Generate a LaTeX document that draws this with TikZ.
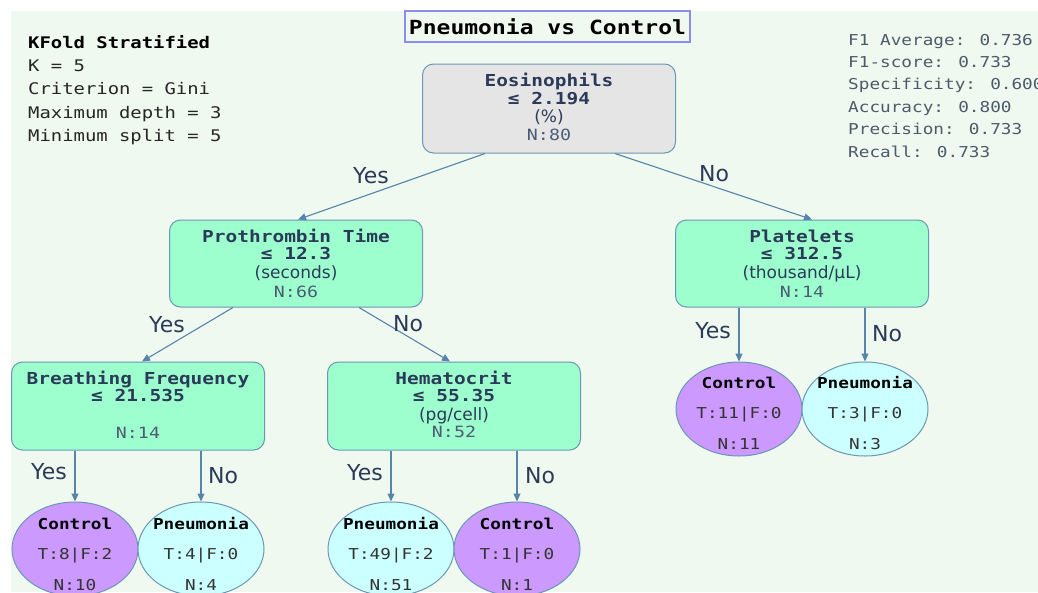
\documentclass[tikz,border=0pt]{standalone}
\usepackage{fontspec}
\setmainfont{DejaVu Sans}
\newfontfamily\monof[FakeStretch=1.18]{DejaVu Sans Mono}
\usetikzlibrary{arrows.meta,shapes.geometric}
\definecolor{bgc}{HTML}{F0F9EF}
\definecolor{mint}{HTML}{9DFFCE}
\definecolor{rootc}{HTML}{E5E5E5}
\definecolor{bord}{HTML}{6A97B5}
\definecolor{edgec}{HTML}{5585AA}
\definecolor{ctrlc}{HTML}{CC99FF}
\definecolor{pneuc}{HTML}{CCFFFF}
\definecolor{titleb}{HTML}{8C8CF0}
\definecolor{navy}{HTML}{2B3A58}
\definecolor{nlc}{HTML}{4B5B74}
\definecolor{metc}{HTML}{4C5A6A}
\tikzset{
  box/.style={draw=bord, line width=1pt, rounded corners=11pt, minimum width=253pt, minimum height=88pt, inner sep=0pt},
  leaf/.style={ellipse, draw=bord, line width=1pt, minimum width=126pt, minimum height=94pt, inner sep=0pt},
  hdr/.style={text=navy, font={\monof\bfseries\fontsize{16.5}{18}\selectfont}, anchor=base, inner sep=0pt},
  nline/.style={text=nlc, font={\monof\fontsize{15.5}{18}\selectfont}, anchor=base, inner sep=0pt},
  unit/.style={text=navy, font={\fontsize{17}{19}\selectfont}, anchor=base, inner sep=0pt},
  lab/.style={text=navy, font={\fontsize{22}{24}\selectfont}, inner sep=0pt},
  leafh/.style={text=black, font={\monof\bfseries\fontsize{15}{17}\selectfont}, anchor=base, inner sep=0pt},
  leaft/.style={text=black!80, font={\monof\fontsize{15}{17}\selectfont}, anchor=base, inner sep=0pt},
  info/.style={text=black!85, font={\monof\fontsize{16}{18}\selectfont}, anchor=base west, inner sep=0pt},
  met/.style={text=metc, font={\monof\fontsize{15}{17}\selectfont}, anchor=base west, inner sep=0pt},
  edge/.style={draw=edgec, line width=1.1pt, -{Triangle[length=8pt,width=7pt]}}
}
\begin{document}
\begin{tikzpicture}[x=1pt,y=-1pt]
\useasboundingbox (0,0) rectangle (1038,592);
\fill[bgc] (11,11) rectangle (1038,592);

% title
\node[draw=titleb, line width=1.2pt, fill=bgc, minimum width=285pt, minimum height=31pt, inner sep=0pt,
      font={\monof\bfseries\fontsize{19.5}{22}\selectfont}] (title) at (547.5,26.5) {Pneumonia vs Control};

% info text
\node[info, font={\monof\bfseries\fontsize{16}{18}\selectfont}, text=black] (i1) at (28,48) {KFold Stratified};
\node[info] (i2) at (28,71) {K = 5};
\node[info] (i3) at (28,94.5) {Criterion = Gini};
\node[info] (i4) at (28,118) {Maximum depth = 3};
\node[info] (i5) at (28,141) {Minimum split = 5};

% metrics
\node[met] (m1) at (848,45) {F1 Average: 0.736};
\node[met] (m2) at (848,67.4) {F1-score: 0.733};
\node[met] (m3) at (848,89.8) {Specificity: 0.600};
\node[met] (m4) at (848,112.2) {Accuracy: 0.800};
\node[met] (m5) at (848,134.6) {Precision: 0.733};
\node[met] (m6) at (848,157) {Recall: 0.733};

% decision boxes
\node[box, fill=rootc, minimum height=89pt] (root) at (549,108.5) {};
\node[hdr] (rt1) at (549,86) {Eosinophils};
\node[hdr] (rt2) at (549,104) {≤ 2.194};
\node[unit] (rt3) at (549,122.5) {(\%)};
\node[nline] (rt4) at (549,140.5) {N:80};

\node[box, fill=mint, minimum height=87pt] (pro) at (296,263.5) {};
\node[hdr] (pt1) at (296,242) {Prothrombin Time};
\node[hdr] (pt2) at (296,259) {≤ 12.3};
\node[unit] (pt3) at (296,278) {(seconds)};
\node[nline] (pt4) at (296,297) {N:66};

\node[box, fill=mint, minimum height=87pt] (plat) at (802,263.5) {};
\node[hdr] (lt1) at (802,242) {Platelets};
\node[hdr] (lt2) at (802,259) {≤ 312.5};
\node[unit] (lt3) at (802,278) {(thousand/μL)};
\node[nline] (lt4) at (802,297) {N:14};

\node[box, fill=mint] (bre) at (138,406) {};
\node[hdr] (bt1) at (138,384) {Breathing Frequency};
\node[hdr] (bt2) at (138,401.5) {≤ 21.535};
\node[nline] (bt4) at (138,438) {N:14};

\node[box, fill=mint] (hem) at (454,406) {};
\node[hdr] (ht1) at (454,384) {Hematocrit};
\node[hdr] (ht2) at (454,401.5) {≤ 55.35};
\node[unit] (ht3) at (454,420) {(pg/cell)};
\node[nline] (ht4) at (454,437.5) {N:52};

% leaves
\node[leaf, fill=ctrlc] (L1) at (75,549) {};
\node[leafh] (L1a) at (75,529) {Control};
\node[leaft] (L1b) at (75,559.5) {T:8|F:2};
\node[leaft] (L1c) at (75,590) {N:10};

\node[leaf, fill=pneuc] (L2) at (201,549) {};
\node[leafh] (L2a) at (201,529) {Pneumonia};
\node[leaft] (L2b) at (201,559.5) {T:4|F:0};
\node[leaft] (L2c) at (201,590) {N:4};

\node[leaf, fill=pneuc] (L3) at (391,549) {};
\node[leafh] (L3a) at (391,529) {Pneumonia};
\node[leaft] (L3b) at (391,559.5) {T:49|F:2};
\node[leaft] (L3c) at (391,590) {N:51};

\node[leaf, fill=ctrlc] (L4) at (517,549) {};
\node[leafh] (L4a) at (517,529) {Control};
\node[leaft] (L4b) at (517,559.5) {T:1|F:0};
\node[leaft] (L4c) at (517,590) {N:1};

\node[leaf, fill=ctrlc] (L5) at (739,409) {};
\node[leafh] (L5a) at (739,388) {Control};
\node[leaft] (L5b) at (739,418.5) {T:11|F:0};
\node[leaft] (L5c) at (739,449) {N:11};

\node[leaf, fill=pneuc] (L6) at (865,409) {};
\node[leafh] (L6a) at (865,388) {Pneumonia};
\node[leaft] (L6b) at (865,418.5) {T:3|F:0};
\node[leaft] (L6c) at (865,449) {N:3};

% edges
\draw[edge] ([xshift=-64pt]root.south) -- ([xshift=2pt]pro.north);
\draw[edge] ([xshift=66pt]root.south) -- ([xshift=10pt]plat.north);
\draw[edge] ([xshift=-63pt]pro.south) -- ([xshift=4pt]bre.north);
\draw[edge] ([xshift=63pt]pro.south) -- ([xshift=-4pt]hem.north);
\draw[edge] ([xshift=-63pt]plat.south) -- (L5.north);
\draw[edge] ([xshift=63pt]plat.south) -- (L6.north);
\draw[edge] ([xshift=-63pt]bre.south) -- (L1.north);
\draw[edge] ([xshift=63pt]bre.south) -- (L2.north);
\draw[edge] ([xshift=-63pt]hem.south) -- (L3.north);
\draw[edge] ([xshift=63pt]hem.south) -- (L4.north);

% edge labels
\node[lab] (y1) at (371,176) {Yes};
\node[lab] (n1) at (714,173.5) {No};
\node[lab] (y2) at (167,325) {Yes};
\node[lab] (n2) at (408,324) {No};
\node[lab] (y3) at (713,331) {Yes};
\node[lab] (n3) at (887,334) {No};
\node[lab] (y4) at (49,472) {Yes};
\node[lab] (n4) at (223,476) {No};
\node[lab] (y5) at (365,473) {Yes};
\node[lab] (n5) at (540,476) {No};
\end{tikzpicture}
\end{document}
